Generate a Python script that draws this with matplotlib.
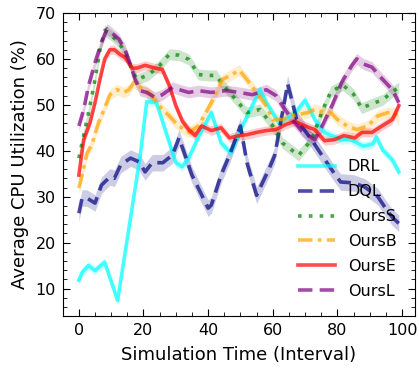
import numpy as np
import matplotlib
matplotlib.use("Agg")
from matplotlib import pyplot as plt
from matplotlib.ticker import MultipleLocator

# values (x = interval, y = avg CPU utilization %)
drl_x = [0, 1, 3, 5, 8, 12, 19, 21, 24, 30, 32, 34, 37, 41, 44, 47, 51, 56, 58, 62, 67, 70, 73, 76, 81, 84, 88, 91, 92, 94, 97, 99]
drl_y = [11.8, 13.5, 15.0, 13.9, 15.7, 7.4, 39.0, 50.7, 50.5, 37.4, 36.5, 38.5, 43.0, 48.3, 41.7, 39.5, 46.0, 53.3, 50.5, 46.0, 48.3, 51.0, 46.8, 44.0, 42.4, 42.5, 41.0, 41.5, 43.0, 40.2, 38.0, 35.4]

dql_x = [0, 1, 2.5, 5, 7, 9.6, 11, 13, 16, 18.6, 20.5, 22.7, 26, 29, 31, 35, 40, 41, 44, 46.6, 50, 52, 55, 59, 60.6, 64.6, 67.4, 72, 75.5, 79, 81, 85, 88.5, 92.5, 94.7, 97, 99]
dql_y = [26.4, 29.7, 29.7, 28.6, 32.5, 34.3, 34.0, 37.0, 38.4, 37.6, 35.4, 37.4, 37.4, 39.1, 42.8, 34.7, 27.5, 28.2, 34.7, 39.0, 45.4, 37.4, 30.3, 36.3, 39.0, 54.6, 46.8, 42.4, 38.7, 35.1, 33.2, 33.0, 32.1, 30.0, 27.7, 25.5, 24.2]

ourss_x = [0, 1, 3, 5, 6.5, 8, 9.6, 12.4, 15, 16.5, 18, 21.7, 25, 28, 31, 34, 37, 40, 42.5, 44.5, 47.5, 52, 56, 60, 63, 68, 72, 75.5, 78, 81.7, 85, 87.5, 91, 94, 97, 99]
ourss_y = [38.4, 41.7, 48.3, 55.5, 62.0, 66.2, 65.4, 63.6, 60.3, 57.5, 55.5, 56.6, 58.6, 61.0, 60.8, 59.9, 56.6, 56.4, 56.4, 54.4, 52.0, 48.3, 49.0, 45.4, 41.7, 39.0, 42.4, 49.0, 52.9, 54.3, 52.3, 49.3, 50.3, 51.1, 52.8, 53.8]

oursb_x = [0, 1, 2.5, 4, 6, 7.8, 9.6, 11.8, 14, 15.5, 17, 19, 21.7, 23.6, 25.8, 28, 30, 31, 34, 37, 41, 44.4, 49.7, 52, 55, 58, 60, 63, 66, 70.8, 73, 76, 78, 80, 83, 86, 89.4, 92.5, 95.6, 97.8, 99]
oursb_y = [31.9, 34.7, 39.5, 41.3, 46.0, 49.0, 52.2, 53.3, 52.7, 53.3, 54.8, 53.8, 52.7, 51.0, 49.0, 47.6, 46.0, 45.4, 44.0, 45.4, 50.5, 55.5, 57.5, 55.5, 52.7, 49.8, 46.8, 46.8, 47.6, 48.3, 49.0, 48.3, 48.3, 46.8, 45.4, 44.6, 45.4, 47.6, 48.3, 48.3, 46.5]

ourse_x = [0, 1.5, 3.4, 5, 6.5, 8, 9.6, 11, 12.7, 14.3, 16.5, 18, 20.5, 23.6, 25.8, 28, 30, 32, 34, 36, 38, 41, 44, 46.6, 49.7, 52, 55, 58, 61, 64, 66.8, 70, 73, 76, 79, 82, 85.4, 87.6, 90.7, 93.8, 97, 99]
ourse_y = [34.7, 42.4, 46.0, 50.5, 55.5, 60.0, 62.0, 62.0, 61.0, 60.3, 58.0, 58.0, 58.6, 58.0, 57.7, 54.2, 49.8, 46.5, 44.6, 43.3, 45.4, 44.4, 45.0, 42.8, 43.3, 43.5, 44.0, 44.4, 44.6, 45.7, 46.4, 45.4, 44.6, 42.2, 42.4, 43.3, 42.8, 44.0, 44.0, 45.4, 46.8, 49.8]

oursl_x = [0, 1.5, 3, 5, 7, 8.7, 10, 12.4, 14.3, 16, 17.4, 19, 21, 23.6, 25.8, 29, 32, 34, 37, 41, 45.6, 49.7, 53.7, 58, 61, 63, 66, 69, 73, 75, 78.3, 81.4, 84.5, 86, 88, 90.7, 93.8, 97, 99]
oursl_y = [45.4, 49.0, 54.2, 59.2, 63.6, 66.5, 65.8, 64.3, 62.0, 58.6, 55.5, 53.1, 52.7, 51.6, 52.2, 53.8, 53.1, 52.7, 53.1, 52.7, 53.1, 52.7, 52.2, 53.3, 52.0, 49.8, 46.8, 44.3, 42.4, 45.0, 49.8, 55.0, 58.6, 60.0, 58.9, 58.2, 55.7, 53.3, 50.5]

# spread of the shaded bands
drl_sd, dql_sd, ourss_sd, oursb_sd, ourse_sd, oursl_sd = 1.0, 1.8, 1.2, 1.2, 1.0, 1.2

plt.rcParams['font.family'] = ['DejaVu Sans']
fig = plt.figure(figsize=(4.19, 3.71), dpi=100)
ax = fig.add_axes([0.150, 0.148, 0.840, 0.817])

series = [
    ("DRL", drl_x, drl_y, drl_sd, "cyan", "-"),
    ("DQL", dql_x, dql_y, dql_sd, "navy", (0, (4, 2))),
    ("OursS", ourss_x, ourss_y, ourss_sd, "green", (0, (1, 2))),
    ("OursB", oursb_x, oursb_y, oursb_sd, "orange", (0, (4, 1.5, 1, 1.5))),
    ("OursE", ourse_x, ourse_y, ourse_sd, "red", "-"),
    ("OursL", oursl_x, oursl_y, oursl_sd, "purple", (0, (4, 2))),
]

for name, x, y, sd, col, ls in series:
    x = np.array(x)
    y = np.array(y)
    ax.fill_between(x, y - sd, y + sd, color=col, alpha=0.2, linewidth=0)
    ax.plot(x, y, color=col, linestyle=ls, linewidth=2.6, alpha=0.7, label=name)

ax.set_xlim(-4.95, 103.95)
ax.set_ylim(4, 70)
ax.xaxis.set_major_locator(MultipleLocator(20))
ax.xaxis.set_minor_locator(MultipleLocator(5))
ax.yaxis.set_major_locator(MultipleLocator(10))
ax.yaxis.set_minor_locator(MultipleLocator(2))
ax.tick_params(which='both', direction='in', top=True, right=True, labelsize=11.5)
ax.tick_params(which='major', length=5, pad=5)
ax.tick_params(which='minor', length=3)

ax.set_xlabel("Simulation Time (Interval)", fontsize=13, labelpad=6)
ax.set_ylabel("Average CPU Utilization (%)", fontsize=13, labelpad=5)

ax.legend(loc='lower right', frameon=False, fontsize=11.5, handlelength=2.3,
          labelspacing=0.62, borderaxespad=0.3, bbox_to_anchor=(0.98, 0.02))

fig.savefig("out.png", dpi=100)
